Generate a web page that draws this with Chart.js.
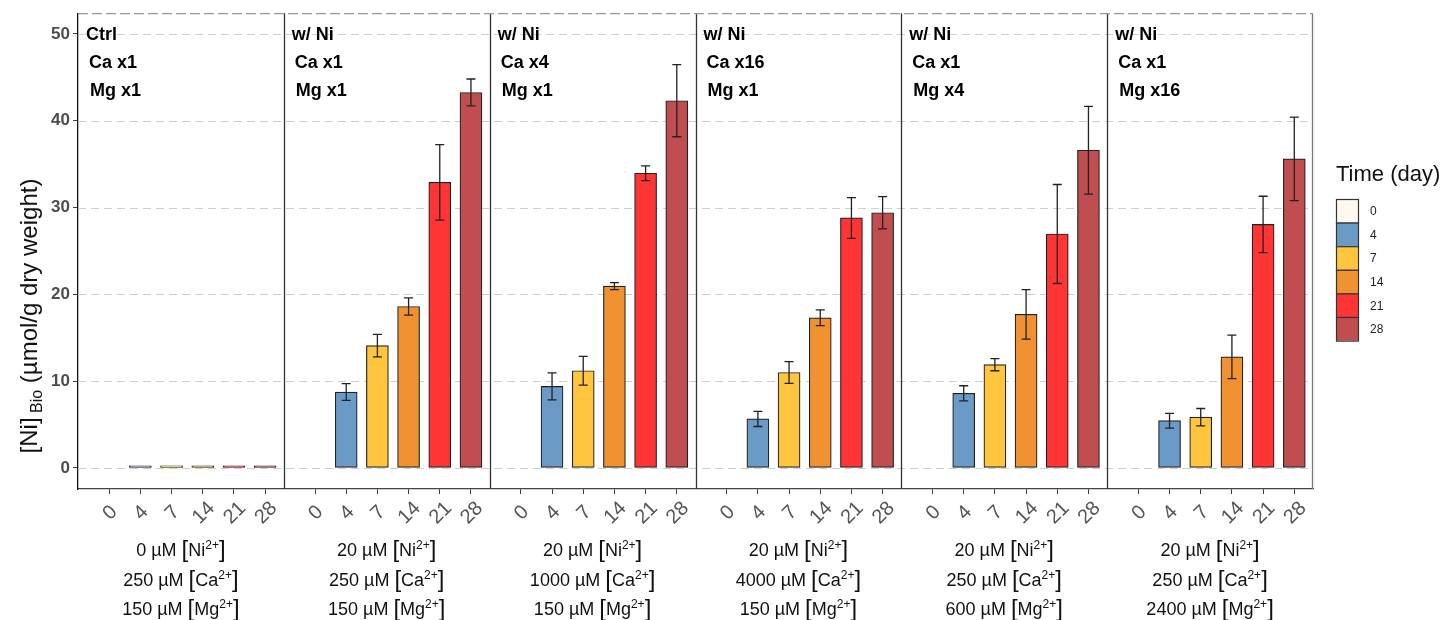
<!DOCTYPE html>
<html>
<head>
<meta charset="utf-8">
<script src="https://cdn.jsdelivr.net/npm/chart.js@4.4.1/dist/chart.umd.min.js"></script>
<style>
  html, body { margin: 0; padding: 0; background: #fff; }
</style>
</head>
<body>
<canvas id="canvas" width="1444" height="620"></canvas>
<script>
// ---- data ----
const timeLabels = ["0", "4", "7", "14", "21", "28"];

const panelTitle = ["Ctrl", "w/ Ni", "w/ Ni", "w/ Ni", "w/ Ni", "w/ Ni"];
const panelCa = ["Ca x1", "Ca x1", "Ca x4", "Ca x16", "Ca x1", "Ca x1"];
const panelMg = ["Mg x1", "Mg x1", "Mg x1", "Mg x1", "Mg x4", "Mg x16"];

const niConc = ["0", "20", "20", "20", "20", "20"];
const caConc = ["250", "250", "1000", "4000", "250", "250"];
const mgConc = ["150", "150", "150", "150", "600", "2400"];

// [Ni]Bio per panel, one array per sampling day
const day0 = [null, null, null, null, null, null];
const day4 = [0.25, 8.75, 9.4, 5.65, 8.6, 5.45];
const day7 = [0.25, 14.1, 11.2, 11.0, 11.9, 5.85];
const day14 = [0.25, 18.6, 20.95, 17.3, 17.7, 12.8];
const day21 = [0.25, 32.9, 33.95, 28.8, 26.95, 28.05];
const day28 = [0.25, 43.25, 42.3, 29.4, 36.6, 35.6];

// error bars (+/-)
const err0 = [0, 0, 0, 0, 0, 0];
const err4 = [0, 0.97, 1.55, 0.87, 0.87, 0.85];
const err7 = [0, 1.3, 1.65, 1.25, 0.7, 1.0];
const err14 = [0, 1.0, 0.4, 0.9, 2.85, 2.5];
const err21 = [0, 4.35, 0.85, 2.35, 5.7, 3.25];
const err28 = [0, 1.55, 4.15, 1.85, 5.05, 4.8];

const yTicks = [0, 10, 20, 30, 40, 50];

// ---- style ----
const FONT = "'Liberation Sans', Arial, sans-serif";
const timeColors = ["#FFF8EF", "#6A9AC5", "#FFC53F", "#F19232", "#FF3434", "#C04E50"];
const PANEL_SPAN = 6.6; // width of one facet in x units

const series = [day0, day4, day7, day14, day21, day28];
const errSeries = [err0, err4, err7, err14, err21, err28];

function xPos(p, ti) {
  return p * PANEL_SPAN + 1 + ti;
}

const tickPositions = [];
panelTitle.forEach((_, p) => timeLabels.forEach((_, ti) => tickPositions.push(xPos(p, ti))));

const ctx = document.getElementById("canvas").getContext("2d");

// grid lines (dashed) under the bars
const gridPlugin = {
  id: "dashGrid",
  beforeDatasetsDraw(chart) {
    const { ctx, chartArea, scales: { y } } = chart;
    ctx.save();
    ctx.strokeStyle = "#CFCFCF";
    ctx.lineWidth = 1.2;
    ctx.setLineDash([8, 5]);
    yTicks.forEach((v) => {
      const py = Math.round(y.getPixelForValue(v)) + 0.5;
      ctx.beginPath();
      ctx.moveTo(chartArea.left, py);
      ctx.lineTo(chartArea.right, py);
      ctx.stroke();
    });
    ctx.restore();
  },
};

// error bars + facet separators
const errorBarPlugin = {
  id: "errorBars",
  afterDatasetsDraw(chart) {
    const { ctx, chartArea, scales: { x, y } } = chart;
    ctx.save();
    ctx.strokeStyle = "#222";
    ctx.lineWidth = 1.3;
    chart.data.datasets.forEach((ds, di) => {
      const meta = chart.getDatasetMeta(di);
      meta.data.forEach((bar, i) => {
        const v = ds.data[i].y;
        const e = ds.errors[i];
        if (v == null || !e) return;
        const top = y.getPixelForValue(v + e);
        const bot = y.getPixelForValue(v - e);
        ctx.beginPath();
        ctx.moveTo(bar.x, top);
        ctx.lineTo(bar.x, bot);
        ctx.moveTo(bar.x - 4.5, top);
        ctx.lineTo(bar.x + 4.5, top);
        ctx.moveTo(bar.x - 4.5, bot);
        ctx.lineTo(bar.x + 4.5, bot);
        ctx.stroke();
      });
    });

    // separators between facets
    ctx.strokeStyle = "#333";
    ctx.lineWidth = 1.3;
    for (let p = 1; p < panelTitle.length; p++) {
      const px = Math.round(x.getPixelForValue(p * PANEL_SPAN)) + 0.5;
      ctx.beginPath();
      ctx.moveTo(px, chartArea.top);
      ctx.lineTo(px, chartArea.bottom);
      ctx.stroke();
    }
    // right border
    ctx.strokeStyle = "#777";
    ctx.beginPath();
    ctx.moveTo(chartArea.right - 0.5, chartArea.top);
    ctx.lineTo(chartArea.right - 0.5, chartArea.bottom);
    ctx.stroke();
    // top border (dashed)
    ctx.strokeStyle = "#999";
    ctx.setLineDash([10, 4]);
    ctx.beginPath();
    ctx.moveTo(chartArea.left, chartArea.top + 0.5);
    ctx.lineTo(chartArea.right, chartArea.top + 0.5);
    ctx.stroke();
    ctx.restore();
  },
};

// draws "250 µM [Ca2+]" with superscript, centered on cx
function drawConc(c, cx, baseline, num, elem) {
  const parts = [
    { t: num + " µM ", f: `18px ${FONT}`, dy: 0 },
    { t: "[", f: `24px ${FONT}`, dy: 1 },
    { t: elem, f: `18px ${FONT}`, dy: 0 },
    { t: "2+", f: `12px ${FONT}`, dy: -7 },
    { t: "]", f: `24px ${FONT}`, dy: 1 },
  ];
  let total = 0;
  parts.forEach((pt) => {
    c.font = pt.f;
    pt.w = c.measureText(pt.t).width;
    total += pt.w;
  });
  let px = cx - total / 2;
  parts.forEach((pt) => {
    c.font = pt.f;
    c.fillText(pt.t, px, baseline + pt.dy);
    px += pt.w;
  });
}

const textPlugin = {
  id: "texts",
  afterDraw(chart) {
    const { ctx, chartArea, scales: { x } } = chart;
    ctx.save();

    // facet labels
    ctx.fillStyle = "#000";
    ctx.font = `bold 18px ${FONT}`;
    ctx.textAlign = "left";
    ctx.textBaseline = "alphabetic";
    panelTitle.forEach((t, p) => {
      const left = x.getPixelForValue(p * PANEL_SPAN);
      ctx.fillText(t, left + 8, chartArea.top + 27);
      ctx.fillText(panelCa[p], left + 11, chartArea.top + 55);
      ctx.fillText(panelMg[p], left + 12, chartArea.top + 83);
    });

    // rotated day labels
    ctx.fillStyle = "#555";
    ctx.font = `20px ${FONT}`;
    ctx.textAlign = "center";
    ctx.textBaseline = "middle";
    panelTitle.forEach((_, p) => {
      timeLabels.forEach((lab, ti) => {
        const px = x.getPixelForValue(xPos(p, ti));
        ctx.save();
        ctx.translate(px + 1, 513);
        ctx.rotate(-Math.PI / 4);
        ctx.fillText(lab, 0, 0);
        ctx.restore();
      });
    });

    // concentrations under each facet
    ctx.fillStyle = "#111";
    ctx.textAlign = "left";
    ctx.textBaseline = "alphabetic";
    panelTitle.forEach((_, p) => {
      const cx = x.getPixelForValue(p * PANEL_SPAN + PANEL_SPAN / 2);
      drawConc(ctx, cx, 556, niConc[p], "Ni");
      drawConc(ctx, cx, 585.5, caConc[p], "Ca");
      drawConc(ctx, cx, 615, mgConc[p], "Mg");
    });

    // y axis title
    ctx.save();
    ctx.translate(37, 316);
    ctx.rotate(-Math.PI / 2);
    const yParts = [
      { t: "[Ni]", f: `24px ${FONT}`, dy: 0 },
      { t: " Bio", f: `16px ${FONT}`, dy: 5 },
      { t: " (µmol/g dry weight)", f: `24px ${FONT}`, dy: 0 },
    ];
    let tw = 0;
    yParts.forEach((pt) => {
      ctx.font = pt.f;
      pt.w = ctx.measureText(pt.t).width;
      tw += pt.w;
    });
    let tx = -tw / 2;
    yParts.forEach((pt) => {
      ctx.font = pt.f;
      ctx.fillText(pt.t, tx, pt.dy);
      tx += pt.w;
    });
    ctx.restore();

    // legend
    ctx.fillStyle = "#111";
    ctx.font = `22px ${FONT}`;
    ctx.fillText("Time (day)", 1336, 181);
    const boxH = 23.6;
    timeLabels.forEach((lab, i) => {
      const by = 199 + i * boxH;
      ctx.fillStyle = timeColors[i];
      ctx.fillRect(1336, by, 22, boxH);
      ctx.strokeStyle = "#333";
      ctx.lineWidth = 1.2;
      ctx.strokeRect(1336.5, by + 0.5, 22, boxH);
      ctx.fillStyle = "#222";
      ctx.font = `12px ${FONT}`;
      ctx.textBaseline = "middle";
      ctx.fillText(lab, 1370, by + boxH / 2 + 1);
      ctx.textBaseline = "alphabetic";
    });

    ctx.restore();
  },
};

const datasets = timeLabels.map((t, ti) => ({
  label: t,
  data: series[ti].map((v, p) => ({ x: xPos(p, ti), y: v })),
  errors: errSeries[ti],
  backgroundColor: timeColors[ti],
  borderColor: "#222",
  borderWidth: 1.2,
  borderSkipped: false,
  barThickness: 22,
  grouped: false,
}));

const myChart = new Chart(ctx, {
  type: "bar",
  data: { datasets },
  options: {
    responsive: false,
    animation: false,
    layout: { padding: { left: 0, top: 13, right: 131, bottom: 0 } },
    plugins: {
      legend: { display: false },
      tooltip: { enabled: false },
    },
    scales: {
      x: {
        type: "linear",
        min: 0,
        max: PANEL_SPAN * panelTitle.length,
        offset: false,
        afterBuildTicks: (s) => {
          s.ticks = tickPositions.map((v) => ({ value: v }));
        },
        afterFit: (s) => {
          s.height = 131;
        },
        ticks: { display: false },
        grid: { drawOnChartArea: false, drawTicks: true, tickLength: 5, color: "#444", offset: false },
        border: { display: true, color: "#444", width: 1.2 },
      },
      y: {
        min: -2.42,
        max: 52.38,
        afterBuildTicks: (s) => {
          s.ticks = yTicks.map((v) => ({ value: v }));
        },
        afterFit: (s) => {
          s.width = 78;
        },
        ticks: {
          color: "#4D4D4D",
          padding: 3,
          font: { size: 17, weight: "bold", family: FONT },
        },
        grid: { drawOnChartArea: false, drawTicks: true, tickLength: 5, color: "#444" },
        border: { display: true, color: "#111", width: 1.3 },
      },
    },
  },
  plugins: [gridPlugin, errorBarPlugin, textPlugin],
});
</script>
</body>
</html>
